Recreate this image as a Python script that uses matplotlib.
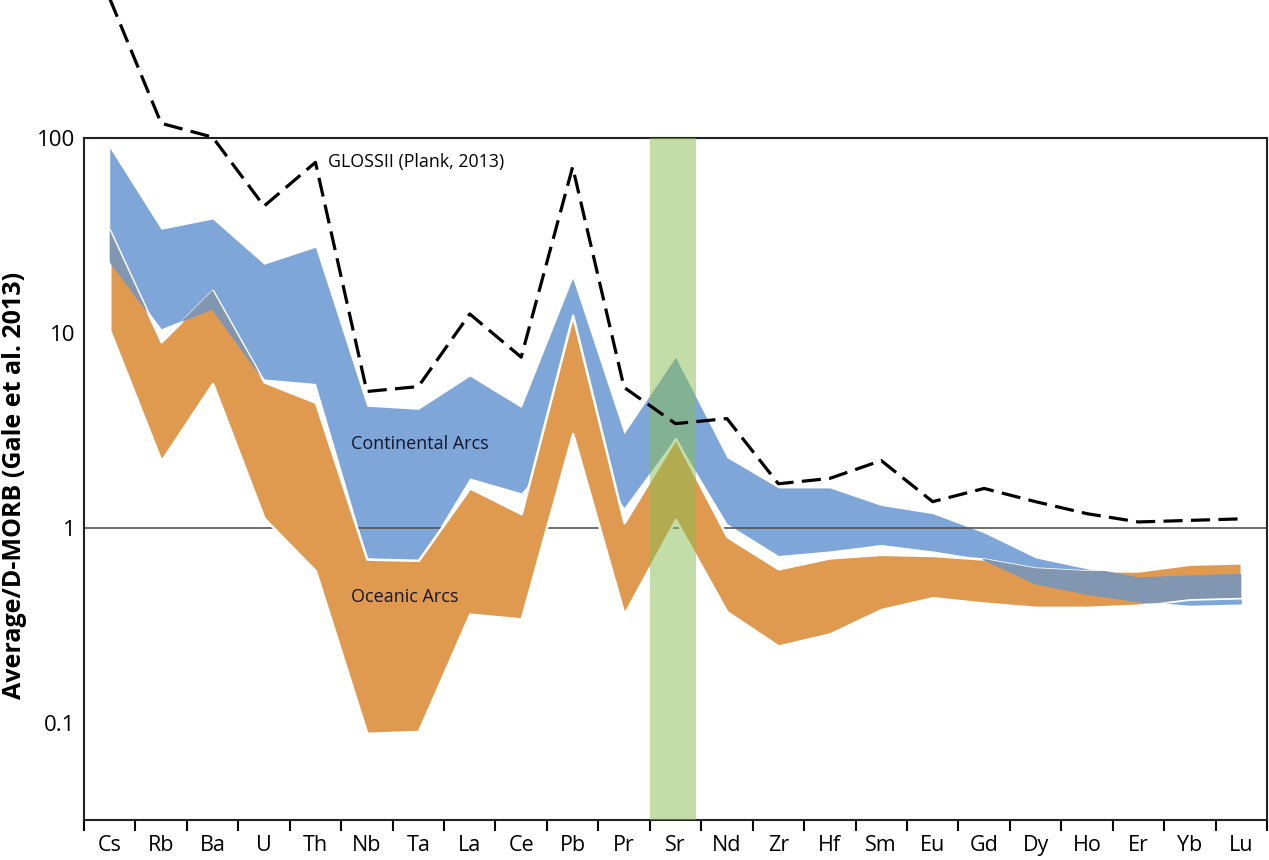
import matplotlib
matplotlib.use("Agg")
import matplotlib.pyplot as plt
import numpy as np

plt.rcParams['font.family'] = ['Open Sans', 'DejaVu Sans']

elements = ['Cs', 'Rb', 'Ba', 'U', 'Th', 'Nb', 'Ta', 'La', 'Ce', 'Pb', 'Pr', 'Sr',
            'Nd', 'Zr', 'Hf', 'Sm', 'Eu', 'Gd', 'Dy', 'Ho', 'Er', 'Yb', 'Lu']

# GLOSS II (Plank, 2013)
gloss = [520, 119, 101, 44.7, 75, 5.0, 5.3, 12.5, 7.5, 71, 5.25, 3.42,
         3.63, 1.68, 1.79, 2.21, 1.36, 1.59, 1.36, 1.18, 1.07, 1.09, 1.11]

# Continental arcs range
cont_lo = [23.6, 10.5, 13.4, 5.8, 5.5, 0.70, 0.66, 1.8, 1.51, 3.0, 1.27, 2.9,
           1.05, 0.72, 0.76, 0.82, 0.76, 0.69, 0.52, 0.46, 0.42, 0.40, 0.406]
cont_hi = [89, 34, 38.4, 22.5, 27.5, 4.2, 4.05, 6.0, 4.14, 19.1, 3.04, 7.5,
           2.29, 1.6, 1.6, 1.3, 1.18, 0.94, 0.70, 0.615, 0.547, 0.56, 0.57]

# Oceanic arcs range
ocean_lo = [10.3, 2.2, 5.5, 1.12, 0.60, 0.088, 0.090, 0.36, 0.34, 3.04, 0.36, 1.1,
            0.37, 0.247, 0.285, 0.38, 0.437, 0.41, 0.39, 0.39, 0.40, 0.43, 0.437]
ocean_hi = [33.6, 9.0, 16.5, 5.6, 4.4, 0.69, 0.68, 1.6, 1.18, 12.3, 1.06, 2.87,
            0.90, 0.615, 0.70, 0.73, 0.72, 0.69, 0.62, 0.60, 0.60, 0.65, 0.66]

# where the two ranges show as a mixed (grey) overlap
overlap = [True, True, True, True] + [False] * 13 + [True] * 6

x = np.arange(len(elements))

fig = plt.figure(figsize=(12.69, 8.60), dpi=100)
ax = fig.add_axes([84 / 1269, 40 / 860, 1183 / 1269, 682 / 860])
ax.set_yscale('log')

ax.fill_between(x, cont_lo, cont_hi, color='#7ea6d8', lw=0, zorder=1)
ax.axhline(1, color='#555555', lw=1.2, zorder=1.5)
orange = ax.fill_between(x, ocean_lo, ocean_hi, facecolor='#e09a50',
                         edgecolor='white', lw=1.8, zorder=2)
mix = ax.fill_between(x, cont_lo, cont_hi, where=overlap, facecolor='#8096b1',
                      edgecolor='#8096b1', lw=2, zorder=2.5)
mix.set_clip_path(orange.get_paths()[0], transform=ax.transData)

# Sr column
ax.axvspan(10.5, 11.4, color='#87bd51', alpha=0.5, lw=0, zorder=3)

ax.plot(x, gloss, color='black', lw=2.3, dashes=(6, 2.6), clip_on=False, zorder=4)

ax.text(4.25, 75, 'GLOSSII (Plank, 2013)', fontsize=12.8, va='center', ha='left')
ax.text(4.7, 2.7, 'Continental Arcs', fontsize=13, color='#14142a', va='center')
ax.text(4.7, 0.44, 'Oceanic Arcs', fontsize=13, color='#14142a', va='center')

ax.set_xlim(-0.5, len(elements) - 0.5)
ax.set_ylim(0.0316, 100)
ax.set_xticks(x)
ax.set_xticklabels(elements, fontsize=15.5)
ax.set_xticks(np.arange(len(elements) + 1) - 0.5, minor=True)
ax.tick_params(axis='x', which='major', length=0, pad=11)
ax.tick_params(axis='x', which='minor', length=8, width=1.5, direction='out')
ax.set_yticks([0.1, 1, 10, 100])
ax.set_yticklabels(['0.1', '1', '10', '100'], fontsize=16)
ax.yaxis.set_minor_locator(matplotlib.ticker.NullLocator())
ax.tick_params(axis='y', length=0, pad=6)
ax.set_ylabel('Average/D-MORB (Gale et al. 2013)', fontsize=18, fontweight='bold')
ax.yaxis.set_label_coords(-0.048, 0.49)
for s in ax.spines.values():
    s.set_linewidth(1.5)
    s.set_color('#222222')

fig.savefig('out.png', dpi=100)
